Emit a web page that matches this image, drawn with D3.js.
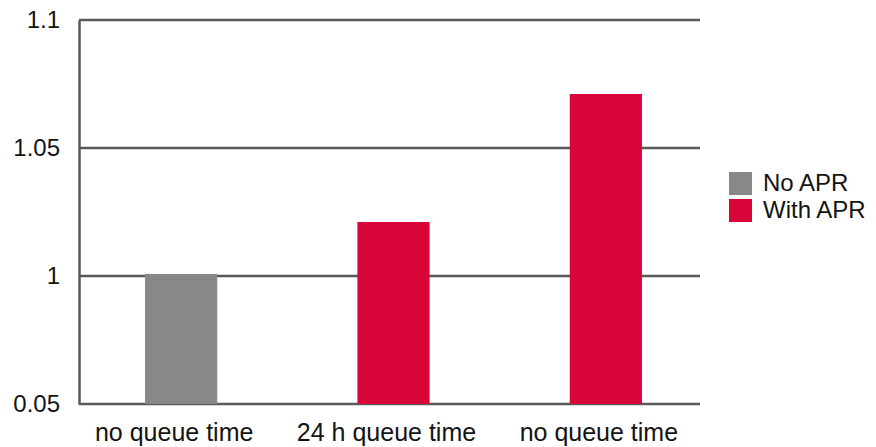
<!DOCTYPE html>
<html>
<head>
<meta charset="utf-8">
<script src="https://cdn.jsdelivr.net/npm/d3@7/dist/d3.min.js"></script>
<style>
  html, body { margin: 0; padding: 0; background: #fff; }
  svg { display: block; font-family: "Liberation Sans", Arial, sans-serif; }
</style>
</head>
<body>
<svg id="chart" width="876" height="447"></svg>
<script>
// Relative throughput per configuration
const categories = ["no queue time", "24 h queue time", "no queue time "];
const values = [1.0008, 1.0211, 1.0711];
const barSeries = ["No APR", "With APR", "With APR"];

const seriesNames = ["No APR", "With APR"];
const seriesColors = ["#888888", "#d80539"];

const tickValues = [0.95, 1, 1.05, 1.1];
const tickLabels = ["0.05", "1", "1.05", "1.1"];

const svg = d3.select("#chart");
const textColor = "#141414";
const gridColor = "#595959";

const x = d3.scaleBand()
  .domain(categories)
  .range([79, 708])
  .paddingInner(0.66)
  .paddingOuter(0.311);

const y = d3.scaleLinear()
  .domain([0.95, 1.1])
  .range([404, 20]);

const color = d3.scaleOrdinal().domain(seriesNames).range(seriesColors);

// Horizontal gridlines
svg.append("g")
  .selectAll("line")
  .data(tickValues)
  .join("line")
  .attr("x1", 79)
  .attr("x2", 700)
  .attr("y1", d => y(d))
  .attr("y2", d => y(d))
  .attr("stroke", gridColor)
  .attr("stroke-width", 2.5);

// Y axis with custom tick labels
const yAxis = d3.axisLeft(y)
  .tickValues(tickValues)
  .tickFormat((d, i) => tickLabels[i])
  .tickSize(0)
  .tickPadding(19);

const yg = svg.append("g")
  .attr("transform", "translate(79,0)")
  .call(yAxis);
yg.select(".domain")
  .attr("stroke", gridColor)
  .attr("stroke-width", 2.5);
yg.selectAll("text")
  .attr("fill", textColor)
  .attr("font-size", 24)
  .attr("font-family", "'Liberation Sans', Arial, sans-serif")
  .attr("dy", "0.3em");

// Bars
svg.append("g")
  .selectAll("rect")
  .data(categories)
  .join("rect")
  .attr("x", d => x(d))
  .attr("width", x.bandwidth())
  .attr("y", (d, i) => y(values[i]))
  .attr("height", (d, i) => y(0.95) - y(values[i]))
  .attr("fill", (d, i) => color(barSeries[i]));

// X axis labels
const xAxis = d3.axisBottom(x).tickSize(0).tickPadding(0).tickFormat(d => d.trim());
const xg = svg.append("g")
  .attr("transform", "translate(-7,0)")
  .call(xAxis);
xg.select(".domain").remove();
xg.selectAll("text")
  .attr("fill", textColor)
  .attr("font-size", 25)
  .attr("font-family", "'Liberation Sans', Arial, sans-serif")
  .attr("y", 441)
  .attr("dy", null);

// Legend
const legend = svg.append("g")
  .selectAll("g")
  .data(seriesNames)
  .join("g")
  .attr("transform", (d, i) => `translate(729,${172 + i * 27})`);
legend.append("rect")
  .attr("width", 23)
  .attr("height", 23)
  .attr("fill", d => color(d));
legend.append("text")
  .attr("x", 34)
  .attr("y", 19)
  .attr("font-size", 24)
  .attr("fill", textColor)
  .text(d => d);
</script>
</body>
</html>
